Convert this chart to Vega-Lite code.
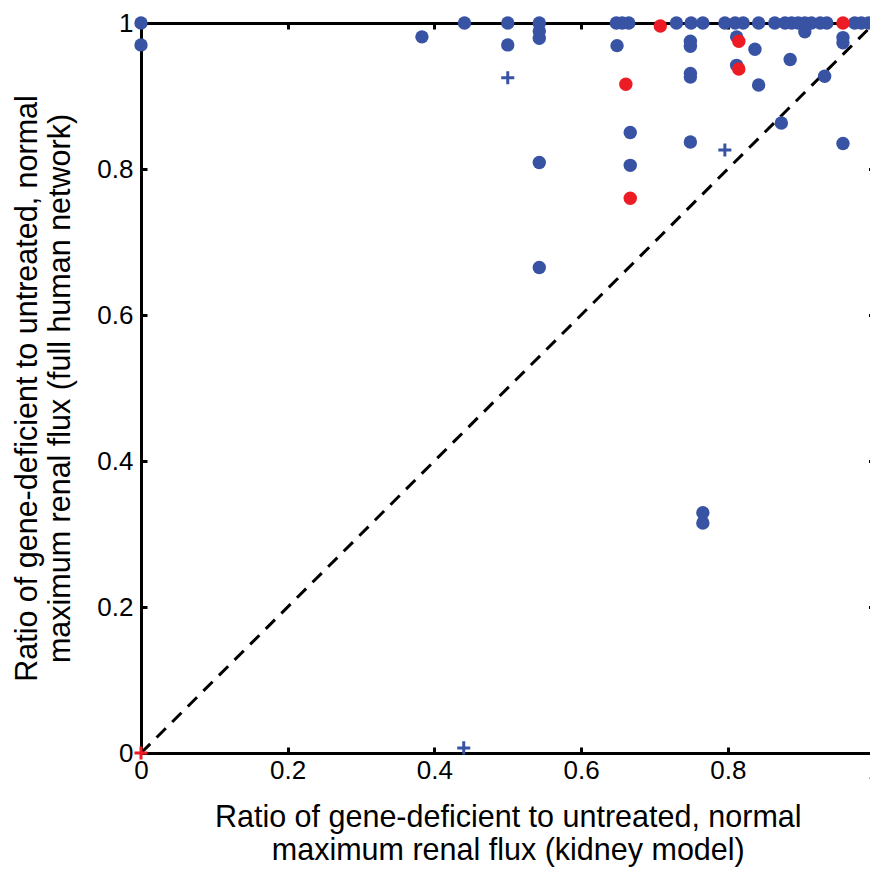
{
  "$schema": "https://vega.github.io/schema/vega-lite/v6.json",
  "width": 733.5,
  "height": 730,
  "autosize": {"type": "none"},
  "padding": {"left": 141, "top": 23, "right": 0, "bottom": 116},
  "background": "white",
  "config": {
    "view": {"stroke": null},
    "font": "Liberation Sans",
    "axis": {
      "domainColor": "black",
      "domainWidth": 3,
      "tickColor": "black",
      "tickWidth": 3,
      "tickSize": -6,
      "labelFont": "Liberation Sans",
      "labelFontSize": 26,
      "labelColor": "black",
      "labelFlush": false,
      "labelOverlap": false,
      "titleFont": "Liberation Sans",
      "titleFontSize": 30.5,
      "titleFontWeight": "normal",
      "titleColor": "black",
      "titleLineHeight": 33,
      "grid": false
    }
  },
  "datasets": {
    "pts": [
      {"kx": 0, "hy": 1, "group": "blue", "marker": "dot"},
      {"kx": 0, "hy": 0.970, "group": "blue", "marker": "dot"},
      {"kx": 0.383, "hy": 0.981, "group": "blue", "marker": "dot"},
      {"kx": 0.441, "hy": 1, "group": "blue", "marker": "dot"},
      {"kx": 0.500, "hy": 1, "group": "blue", "marker": "dot"},
      {"kx": 0.500, "hy": 0.970, "group": "blue", "marker": "dot"},
      {"kx": 0.543, "hy": 1, "group": "blue", "marker": "dot"},
      {"kx": 0.543, "hy": 0.989, "group": "blue", "marker": "dot"},
      {"kx": 0.543, "hy": 0.979, "group": "blue", "marker": "dot"},
      {"kx": 0.543, "hy": 0.809, "group": "blue", "marker": "dot"},
      {"kx": 0.543, "hy": 0.665, "group": "blue", "marker": "dot"},
      {"kx": 0.648, "hy": 1, "group": "blue", "marker": "dot"},
      {"kx": 0.656, "hy": 1, "group": "blue", "marker": "dot"},
      {"kx": 0.665, "hy": 1, "group": "blue", "marker": "dot"},
      {"kx": 0.649, "hy": 0.969, "group": "blue", "marker": "dot"},
      {"kx": 0.667, "hy": 0.850, "group": "blue", "marker": "dot"},
      {"kx": 0.667, "hy": 0.805, "group": "blue", "marker": "dot"},
      {"kx": 0.730, "hy": 1, "group": "blue", "marker": "dot"},
      {"kx": 0.750, "hy": 1, "group": "blue", "marker": "dot"},
      {"kx": 0.766, "hy": 1, "group": "blue", "marker": "dot"},
      {"kx": 0.749, "hy": 0.975, "group": "blue", "marker": "dot"},
      {"kx": 0.749, "hy": 0.968, "group": "blue", "marker": "dot"},
      {"kx": 0.749, "hy": 0.931, "group": "blue", "marker": "dot"},
      {"kx": 0.749, "hy": 0.926, "group": "blue", "marker": "dot"},
      {"kx": 0.749, "hy": 0.837, "group": "blue", "marker": "dot"},
      {"kx": 0.766, "hy": 0.329, "group": "blue", "marker": "dot"},
      {"kx": 0.766, "hy": 0.315, "group": "blue", "marker": "dot"},
      {"kx": 0.796, "hy": 1, "group": "blue", "marker": "dot"},
      {"kx": 0.810, "hy": 1, "group": "blue", "marker": "dot"},
      {"kx": 0.821, "hy": 1, "group": "blue", "marker": "dot"},
      {"kx": 0.812, "hy": 0.981, "group": "blue", "marker": "dot"},
      {"kx": 0.812, "hy": 0.942, "group": "blue", "marker": "dot"},
      {"kx": 0.837, "hy": 0.964, "group": "blue", "marker": "dot"},
      {"kx": 0.842, "hy": 1, "group": "blue", "marker": "dot"},
      {"kx": 0.842, "hy": 0.915, "group": "blue", "marker": "dot"},
      {"kx": 0.864, "hy": 1, "group": "blue", "marker": "dot"},
      {"kx": 0.873, "hy": 0.863, "group": "blue", "marker": "dot"},
      {"kx": 0.878, "hy": 1, "group": "blue", "marker": "dot"},
      {"kx": 0.887, "hy": 1, "group": "blue", "marker": "dot"},
      {"kx": 0.885, "hy": 0.950, "group": "blue", "marker": "dot"},
      {"kx": 0.896, "hy": 1, "group": "blue", "marker": "dot"},
      {"kx": 0.905, "hy": 1, "group": "blue", "marker": "dot"},
      {"kx": 0.914, "hy": 1, "group": "blue", "marker": "dot"},
      {"kx": 0.905, "hy": 0.988, "group": "blue", "marker": "dot"},
      {"kx": 0.926, "hy": 1, "group": "blue", "marker": "dot"},
      {"kx": 0.935, "hy": 1, "group": "blue", "marker": "dot"},
      {"kx": 0.932, "hy": 0.927, "group": "blue", "marker": "dot"},
      {"kx": 0.957, "hy": 0.980, "group": "blue", "marker": "dot"},
      {"kx": 0.957, "hy": 0.973, "group": "blue", "marker": "dot"},
      {"kx": 0.957, "hy": 0.835, "group": "blue", "marker": "dot"},
      {"kx": 0.973, "hy": 1, "group": "blue", "marker": "dot"},
      {"kx": 0.982, "hy": 1, "group": "blue", "marker": "dot"},
      {"kx": 0.992, "hy": 1, "group": "blue", "marker": "dot"},
      {"kx": 1, "hy": 1, "group": "blue", "marker": "dot"},
      {"kx": 0.661, "hy": 0.916, "group": "red", "marker": "dot"},
      {"kx": 0.667, "hy": 0.760, "group": "red", "marker": "dot"},
      {"kx": 0.708, "hy": 0.996, "group": "red", "marker": "dot"},
      {"kx": 0.815, "hy": 0.975, "group": "red", "marker": "dot"},
      {"kx": 0.815, "hy": 0.937, "group": "red", "marker": "dot"},
      {"kx": 0.957, "hy": 1, "group": "red", "marker": "dot"},
      {"kx": 0.500, "hy": 0.925, "group": "blue", "marker": "plus"},
      {"kx": 0.796, "hy": 0.826, "group": "blue", "marker": "plus"},
      {"kx": 0.440, "hy": 0.007, "group": "blue", "marker": "plus"},
      {"kx": 0, "hy": 0, "group": "red", "marker": "plus"}
    ],
    "diag": [{"kx": 0, "hy": 0}, {"kx": 1, "hy": 1}]
  },
  "layer": [
    {
      "data": {"name": "diag"},
      "mark": {"type": "line", "color": "black", "strokeWidth": 3, "strokeDash": [13, 9]},
      "encoding": {
        "x": {"field": "kx", "type": "quantitative", "scale": {"domain": [0, 1], "nice": false, "zero": false},
          "axis": {"orient": "bottom", "values": [0, 0.2, 0.4, 0.6, 0.8, 1], "format": "~g", "labelPadding": 10, "titlePadding": 19,
            "title": ["Ratio of gene-deficient to untreated, normal", "maximum renal flux (kidney model)"]}},
        "y": {"field": "hy", "type": "quantitative", "scale": {"domain": [0, 1], "nice": false, "zero": false},
          "axis": {"orient": "left", "values": [0, 0.2, 0.4, 0.6, 0.8, 1], "format": "~g", "labelPadding": 14, "titlePadding": 21,
            "title": ["Ratio of gene-deficient to untreated, normal", "maximum renal flux (full human network)"]}}
      }
    },
    {
      "data": {"name": "pts"},
      "transform": [{"filter": "datum.marker === 'dot'"}],
      "mark": {"type": "circle", "size": 180, "opacity": 1},
      "encoding": {
        "x": {"field": "kx", "type": "quantitative", "axis": {"orient": "top", "values": [0, 0.2, 0.4, 0.6, 0.8, 1], "labels": false, "title": null}},
        "y": {"field": "hy", "type": "quantitative", "axis": {"orient": "right", "values": [0, 0.2, 0.4, 0.6, 0.8, 1], "labels": false, "title": null}},
        "color": {"field": "group", "type": "nominal", "scale": {"domain": ["blue", "red"], "range": ["#3953a4", "#ed1c24"]}, "legend": null}
      }
    },
    {
      "data": {"name": "pts"},
      "transform": [{"filter": "datum.marker === 'plus'"}],
      "mark": {"type": "point", "shape": "M-1,0H1M0,-1V1", "filled": false, "strokeWidth": 3, "size": 170, "opacity": 1},
      "encoding": {
        "x": {"field": "kx", "type": "quantitative", "axis": null},
        "y": {"field": "hy", "type": "quantitative", "axis": null},
        "color": {"field": "group", "type": "nominal", "legend": null}
      }
    }
  ],
  "resolve": {"axis": {"x": "independent", "y": "independent"}}
}
